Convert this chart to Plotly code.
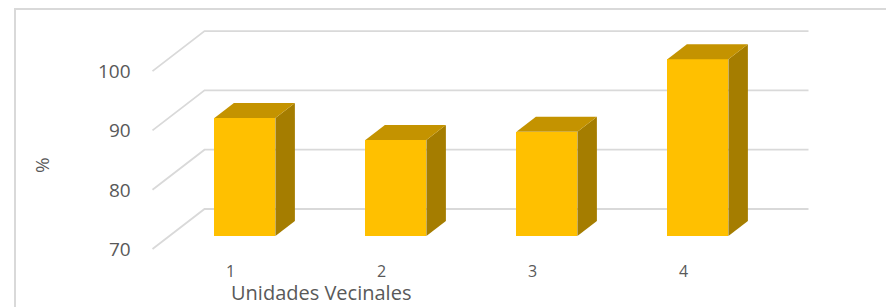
import plotly.graph_objects as go

# ---- data ----
categories = ["1", "2", "3", "4"]
values = [89.9, 86.2, 87.6, 99.8]
y_ticks = [70, 80, 90, 100]
x_title = "Unidades Vecinales"
y_title = "%"

# ---- style / geometry constants ----
W, H = 886, 307
PX_PER_CAT = 151.0
PX_PER_UNIT = 5.93
X0_PX, V0_PX = 228.0, 249.0          # pixel of category 1 / value 70 on front plane
BASE = 70.0
DEPTH_DX = 52.0 / PX_PER_CAT          # full depth offset in category units
DEPTH_DY = 40.0 / PX_PER_UNIT         # full depth offset in value units
F0, F1 = 0.325, 0.70                  # bar depth extent (fraction of depth)
BAR_W = 61.0 / PX_PER_CAT
FRONT = "#FFC000"
TOP = "#C49300"
SIDE = "#A57D00"
GRID = "#D9D9D9"
TXT = "#595959"
FONT = "Open Sans"

x_range = [1 - X0_PX / PX_PER_CAT, 1 + (W - X0_PX) / PX_PER_CAT]
y_range = [BASE - (H - V0_PX) / PX_PER_UNIT, BASE + V0_PX / PX_PER_UNIT]

fig = go.Figure()

n = len(categories)
gx0, gx1 = 0.5, n + 0.5
shapes = []
# gridlines: left wall diagonals + back lines (below the bars)
for t in y_ticks:
    shapes.append(dict(type="path", xref="x", yref="y", layer="below",
                       path=f"M {gx0},{t} L {gx0 + DEPTH_DX},{t + DEPTH_DY} L {gx1 + DEPTH_DX},{t + DEPTH_DY}",
                       line=dict(color=GRID, width=1.8)))
# chart border
shapes.append(dict(type="rect", xref="paper", yref="paper",
                   x0=15 / W, y0=-0.1, x1=1.1, y1=1 - 9 / H,
                   line=dict(color="#D9D9D9", width=2), layer="below"))

fx, fy = F0 * DEPTH_DX, F0 * DEPTH_DY
bx, by = (F1 - F0) * DEPTH_DX, (F1 - F0) * DEPTH_DY
xs = [i + 1 for i in range(n)]

# front faces
fig.add_trace(go.Bar(
    x=[x + fx for x in xs], y=[v - BASE for v in values], base=BASE + fy,
    width=BAR_W, marker=dict(color=FRONT, line=dict(width=0)),
    showlegend=False, hoverinfo="skip"))

for x, v in zip(xs, values):
    xl = x + fx - BAR_W / 2
    xr = x + fx + BAR_W / 2
    vt = v + fy
    vb = BASE + fy
    # side face
    fig.add_trace(go.Scatter(
        x=[xr, xr, xr + bx, xr + bx, xr], y=[vb, vt, vt + by, vb + by, vb],
        fill="toself", fillcolor=SIDE, mode="lines", line=dict(width=0, color=SIDE),
        hoverinfo="skip", showlegend=False))
    # top face
    fig.add_trace(go.Scatter(
        x=[xl, xr, xr + bx, xl + bx, xl], y=[vt, vt, vt + by, vt + by, vt],
        fill="toself", fillcolor=TOP, mode="lines", line=dict(width=0, color=TOP),
        hoverinfo="skip", showlegend=False))

annotations = []
for t in y_ticks:
    annotations.append(dict(x=gx0, y=t, xref="x", yref="y", text=str(t),
                            showarrow=False, xanchor="right", yanchor="middle",
                            xshift=-20, font=dict(family=FONT, size=19, color=TXT)))
for x, c in zip(xs, categories):
    annotations.append(dict(x=x, y=BASE, xref="x", yref="y", text=c,
                            showarrow=False, xanchor="center", yanchor="middle",
                            yshift=-22, xshift=2, font=dict(family=FONT, size=16, color=TXT)))
annotations.append(dict(x=321 / W, y=1 - 292 / H, xref="paper", yref="paper",
                        text=x_title, showarrow=False, xanchor="center", yanchor="middle",
                        font=dict(family=FONT, size=20, color=TXT)))
annotations.append(dict(x=42 / W, y=1 - 165 / H, xref="paper", yref="paper",
                        text=y_title, showarrow=False, textangle=-90,
                        xanchor="center", yanchor="middle",
                        font=dict(family=FONT, size=19, color=TXT)))

fig.update_layout(
    width=W, height=H, margin=dict(l=0, r=0, t=0, b=0),
    paper_bgcolor="white", plot_bgcolor="white",
    xaxis=dict(range=x_range, visible=False, fixedrange=True),
    yaxis=dict(range=y_range, visible=False, fixedrange=True),
    annotations=annotations,
    shapes=shapes,
    bargap=0,
)

fig.write_html("out.html", config={"displayModeBar": False},
               post_script="document.body.style.margin='0';document.body.style.overflow='hidden';")
